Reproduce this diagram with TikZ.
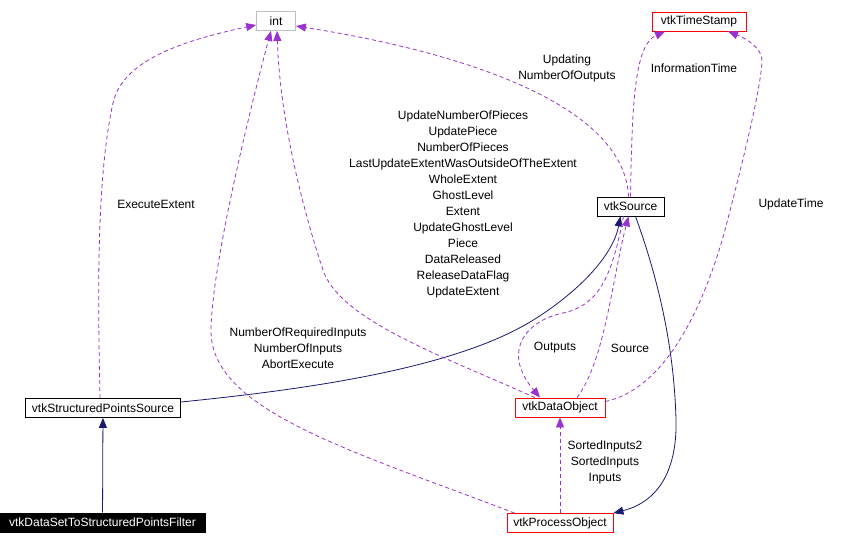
\documentclass[tikz,border=0pt]{standalone}
\usepackage{fontspec}
\setmainfont{Liberation Sans}
\usepackage{xcolor}
\usetikzlibrary{arrows.meta,positioning}
\definecolor{useEdge}{RGB}{154,50,205}
\definecolor{inhEdge}{RGB}{25,25,112}

\begin{document}
\begin{tikzpicture}[
  x=1pt, y=-1pt,
  font=\fontsize{12}{16}\selectfont,
  classBox/.style={draw=black, fill=white, line width=0.8pt,
                   minimum height=19pt, inner sep=0pt},
  redBox/.style={classBox, draw=red},
  usage/.style={draw=useEdge, line width=0.8pt, dash pattern=on 4pt off 3pt,
                -{Triangle[length=10pt,width=8pt]}},
  inherit/.style={draw=inhEdge, line width=0.8pt,
                  -{Triangle[length=10pt,width=8pt]}},
  lbl/.style={align=center, inner sep=0pt}
]
  \useasboundingbox (0,0) rectangle (853,544);

  % Classes
  \node[classBox, draw=gray!50, minimum width=39pt] (int) at (276,21) {int};
  \node[redBox, minimum width=94pt] (stamp) at (699,21.5) {vtkTimeStamp};
  \node[classBox, minimum width=67pt] (source) at (630.5,206.5) {vtkSource};
  \node[classBox, minimum width=155pt] (spSource) at (103,408) {vtkStructuredPointsSource};
  \node[redBox, minimum width=90pt] (dataObj) at (560,407.5) {vtkDataObject};
  \node[classBox, fill=black, text=white, minimum width=205pt] (filter) at (102.5,522.5)
    {vtkDataSetToStructuredPointsFilter};
  \node[redBox, minimum width=106pt] (procObj) at (560,523) {vtkProcessObject};

  % Inheritance
  \draw[inherit] (filter) -- (spSource);
  \draw[inherit] ([yshift=6pt]spSource.east)
    .. controls (300,390) and (450,370) .. (530,322)
    .. controls (570,298) and (612,260) .. ([xshift=-10pt]source.south);
  \draw[inherit] ([xshift=5pt]source.south)
    .. controls (655,270) and (674,340) .. (676,420)
    .. controls (677,460) and (665,500) .. (procObj.north east);

  % Members
  \draw[usage] ([xshift=-3pt]spSource.north)
    .. controls (98,300) and (96,180) .. (113,103)
    .. controls (122,63) and (175,42) .. ([yshift=-4pt]int.west);
  \draw[usage] ([xshift=8pt]procObj.north west)
    .. controls (350,450) and (210,410) .. (211,330)
    .. controls (212,260) and (255,90) .. ([xshift=-5pt]int.south);
  \draw[usage] ([xshift=-25pt]dataObj.north)
    .. controls (440,355) and (340,320) .. (323,270)
    .. controls (303,210) and (280,120) .. ([xshift=1pt]int.south);
  \draw[usage] ([xshift=-2pt]source.north)
    .. controls (625,110) and (480,55) .. ([yshift=-5pt]int.east);
  \draw[usage] (source.north)
    .. controls (632,100) and (635,45) .. ([xshift=-34pt]stamp.south);
  \draw[usage] ([yshift=6pt]dataObj.east)
    .. controls (660,390) and (700,320) .. (725,230)
    .. controls (738,180) and (760,95) .. (762,62)
    .. controls (763,48) and (745,38) .. ([xshift=29pt]stamp.south);
  \draw[usage] ([xshift=17pt]dataObj.north)
    .. controls (605,360) and (612,280) .. ([xshift=-2pt]source.south);
  \draw[usage] ([xshift=-7pt]source.south)
    .. controls (612,275) and (600,305) .. (563,313)
    .. controls (528,320) and (500,350) .. ([xshift=-20pt]dataObj.north);
  \draw[usage] (procObj.north) -- (dataObj.south);

  % Member names
  \node[lbl] (execLbl) at (156,204) {ExecuteExtent};
  \node[lbl] (updLbl) at (567,68) {Updating\\NumberOfOutputs};
  \node[lbl] (infoLbl) at (694,68) {InformationTime};
  \node[lbl] (extLbl) at (463,204) {UpdateNumberOfPieces\\UpdatePiece\\NumberOfPieces\\
    LastUpdateExtentWasOutsideOfTheExtent\\WholeExtent\\GhostLevel\\Extent\\
    UpdateGhostLevel\\Piece\\DataReleased\\ReleaseDataFlag\\UpdateExtent};
  \node[lbl] (timeLbl) at (791,204) {UpdateTime};
  \node[lbl] (inLbl) at (298,348) {NumberOfRequiredInputs\\NumberOfInputs\\AbortExecute};
  \node[lbl] (outLbl) at (555,348) {Outputs};
  \node[lbl] (srcLbl) at (630,348) {Source};
  \node[lbl] (sortLbl) at (605,462.5) {SortedInputs2\\SortedInputs\\Inputs};
\end{tikzpicture}
\end{document}
